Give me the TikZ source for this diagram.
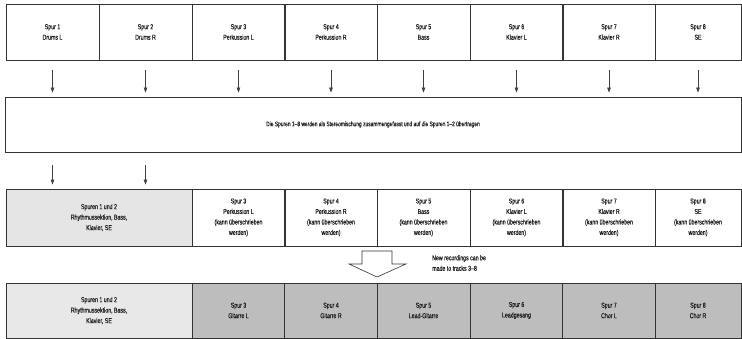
\documentclass[tikz,border=0pt]{standalone}
\usepackage{fontspec}
\setmainfont{Liberation Sans}[FakeStretch=0.74,FakeBold=0.15]
\usetikzlibrary{arrows.meta}
\newcommand{\trackfont}{\fontsize{7.1}{10.5}\selectfont}
\newcommand{\mixfont}{\fontsize{6.6}{10}\selectfont}
\tikzset{
  track/.style={draw=black!80,line width=0.9pt,inner sep=0pt,align=center,
    font=\trackfont,text=black!90,minimum width=93pt,minimum height=56pt},
  busy/.style={track,fill=black!10},
  newrec/.style={track,fill=black!26},
  down/.style={->,draw=black!75,line width=0.6pt},
}
\begin{document}
\begin{tikzpicture}[x=1pt,y=-1pt,>={Triangle[length=5pt,width=3.6pt]}]
\useasboundingbox (0,0) rectangle (742,339);
% original tracks
\node[track] (t1) at (52.5,32) {Spur 1\\Drums L};
\node[track] (t2) at (145.5,32) {Spur 2\\Drums R};
\node[track] (t3) at (238.5,32) {Spur 3\\Perkussion L};
\node[track] (t4) at (331,32) {Spur 4\\Perkussion R};
\node[track] (t5) at (423.5,32) {Spur 5\\Bass};
\node[track] (t6) at (516.5,32) {Spur 6\\Klavier L};
\node[track] (t7) at (609,32) {Spur 7\\Klavier R};
\node[track,minimum width=86pt] (t8) at (698,32) {Spur 8\\SE};
% bounce
\node[track,font=\mixfont,minimum width=736pt,minimum height=55pt] (mix) at (373,124.5)
 {Die Spuren 1--8 werden als Stereomischung zusammengefasst und auf die Spuren 1--2 übertragen};
\draw[down,shorten <=10pt,shorten >=4pt] (t1) -- (t1 |- mix.north);
\draw[down,shorten <=10pt,shorten >=4pt] (t2) -- (t2 |- mix.north);
\draw[down,shorten <=10pt,shorten >=4pt] (t3) -- (t3 |- mix.north);
\draw[down,shorten <=10pt,shorten >=4pt] (t4) -- (t4 |- mix.north);
\draw[down,shorten <=10pt,shorten >=4pt] (t5) -- (t5 |- mix.north);
\draw[down,shorten <=10pt,shorten >=4pt] (t6) -- (t6 |- mix.north);
\draw[down,shorten <=10pt,shorten >=4pt] (t7) -- (t7 |- mix.north);
\draw[down,shorten <=10pt,shorten >=4pt] (t8) -- (t8 |- mix.north);
% after the bounce
\node[busy,minimum width=186pt,minimum height=57pt] (a12) at (99,217.5)
 {Spuren 1 und 2\\Rhythmussektion, Bass,\\Klavier, SE};
\node[track,minimum height=57pt] (a3) at (238.5,217.5) {Spur 3\\Perkussion L\\(kann überschrieben\\werden)};
\node[track,minimum height=57pt] (a4) at (331,217.5) {Spur 4\\Perkussion R\\(kann überschrieben\\werden)};
\node[track,minimum height=57pt] (a5) at (423.5,217.5) {Spur 5\\Bass\\(kann überschrieben\\werden)};
\node[track,minimum height=57pt] (a6) at (516.5,217.5) {Spur 6\\Klavier L\\(kann überschrieben\\werden)};
\node[track,minimum height=57pt] (a7) at (609,217.5) {Spur 7\\Klavier R\\(kann überschrieben\\werden)};
\node[track,minimum height=57pt,minimum width=86pt] (a8) at (698,217.5) {Spur 8\\SE\\(kann überschrieben\\werden)};
\draw[down,shorten <=13pt,shorten >=4pt] (mix.south -| t1) -- (a12.north -| t1);
\draw[down,shorten <=13pt,shorten >=4pt] (mix.south -| t2) -- (a12.north -| t2);
% hollow arrow and note
\coordinate (fa) at (377,251);
\draw[draw=black!80,fill=white,line width=0.6pt,line join=miter]
  (fa) ++(-15,0) -- ++(30,0) -- ++(0,13) -- ++(14,0) -- ++(-29,13)
  -- ++(-28,-13) -- ++(13,0) -- cycle;
\node[font=\trackfont,text=black!90,align=left,anchor=west,inner sep=0pt]
  (note) at (432,263) {New recordings can be\\made to tracks 3--8};
% new recordings
\node[busy,minimum width=186pt,minimum height=55pt,fill=black!9] (b12) at (99,310.5)
 {Spuren 1 und 2\\Rhythmussektion, Bass,\\Klavier, SE};
\node[newrec,minimum height=55pt] (b3) at (238.5,310.5) {Spur 3\\Gitarre L};
\node[newrec,minimum height=55pt] (b4) at (331,310.5) {Spur 4\\Gitarre R};
\node[newrec,minimum height=55pt] (b5) at (423.5,310.5) {Spur 5\\Lead-Gitarre};
\node[newrec,minimum height=55pt] (b6) at (516.5,310.5) {Spur 6\\Leadgesang};
\node[newrec,minimum height=55pt] (b7) at (609,310.5) {Spur 7\\Chor L};
\node[newrec,minimum height=55pt,minimum width=86pt] (b8) at (698,310.5) {Spur 8\\Chor R};
\end{tikzpicture}
\end{document}
